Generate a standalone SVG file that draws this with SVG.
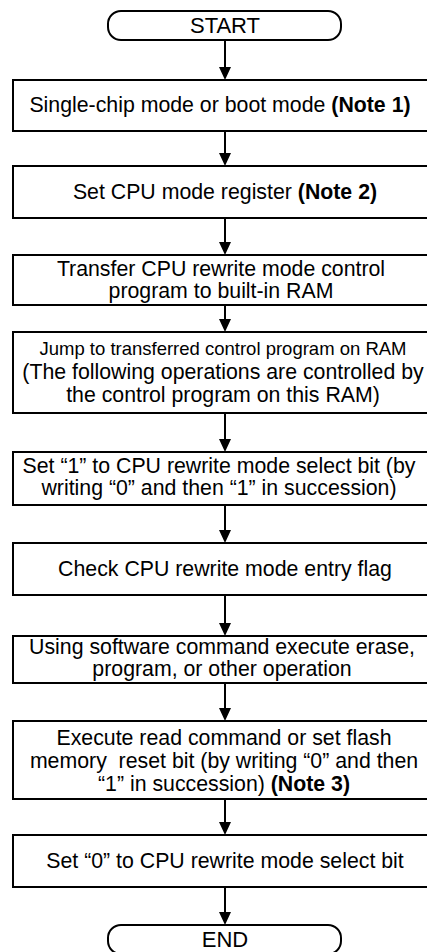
<svg xmlns="http://www.w3.org/2000/svg" width="427" height="952" viewBox="0 0 427 952">
<defs>
<style>
.box{fill:#fff;stroke:#000;stroke-width:2}
.t{font-family:"Liberation Sans",Arial,sans-serif;font-size:21.3px;fill:#000;text-anchor:middle}
.s{font-size:18.5px}
.b{font-weight:bold}
.ln{stroke:#000;stroke-width:2;fill:none}
.hd{fill:#000}
</style>
</defs>
<rect width="427" height="952" fill="#fff"/>
<g id="connectors">
<path class="ln" d="M225 40V68M225 131V154M225 218V243M225 305V320M225 413V440M225 505V531M225 595V624M225 683V709M225 799V823M225 887V913"/>
<path class="hd" d="M219 67h12l-6 13zM219 153h12l-6 13zM219 242h12l-6 13zM219 319h12l-6 13zM219 439h12l-6 13zM219 530h12l-6 13zM219 623h12l-6 13zM219 708h12l-6 13zM219 822h12l-6 13zM219 912h12l-6 13z"/>
</g>
<g id="start">
<rect class="box" x="108" y="11" width="233" height="29" rx="13" ry="13"/>
<text class="t" x="225" y="33" style="font-size:22px">START</text>
</g>
<g id="n1">
<rect class="box" x="13" y="80" width="420" height="51"/>
<text class="t" x="220" y="112">Single-chip mode or boot mode <tspan class="b">(Note 1)</tspan></text>
</g>
<g id="n2">
<rect class="box" x="13" y="166" width="420" height="52"/>
<text class="t" x="225" y="199">Set CPU mode register <tspan class="b">(Note 2)</tspan></text>
</g>
<g id="n3">
<rect class="box" x="13" y="255" width="420" height="50"/>
<text class="t" x="221" y="276">Transfer CPU rewrite mode control</text>
<text class="t" x="221" y="298">program to built-in RAM</text>
</g>
<g id="n4">
<rect class="box" x="13" y="332" width="420" height="81"/>
<text class="t s" x="223" y="355">Jump to transferred control program on RAM</text>
<text class="t" x="223" y="379">(The following operations are controlled by</text>
<text class="t" x="223" y="402">the control program on this RAM)</text>
</g>
<g id="n5">
<rect class="box" x="13" y="452" width="420" height="53"/>
<text class="t" x="219" y="473">Set “1” to CPU rewrite mode select bit (by</text>
<text class="t" x="219" y="495">writing “0” and then “1” in succession)</text>
</g>
<g id="n6">
<rect class="box" x="13" y="543" width="420" height="52"/>
<text class="t" x="225" y="576">Check CPU rewrite mode entry flag</text>
</g>
<g id="n7">
<rect class="box" x="13" y="636" width="420" height="47"/>
<text class="t" x="222" y="654">Using software command execute erase,</text>
<text class="t" x="222" y="676">program, or other operation</text>
</g>
<g id="n8">
<rect class="box" x="13" y="721" width="420" height="78"/>
<text class="t" x="224" y="745">Execute read command or set flash</text>
<text class="t" x="224" y="768">memory&#160; reset bit (by writing “0” and then</text>
<text class="t" x="224" y="791">“1” in succession) <tspan class="b">(Note 3)</tspan></text>
</g>
<g id="n9">
<rect class="box" x="13" y="835" width="420" height="52"/>
<text class="t" x="225" y="868">Set “0” to CPU rewrite mode select bit</text>
</g>
<g id="end">
<rect class="box" x="108" y="925" width="233" height="29" rx="13" ry="13"/>
<text class="t" x="225" y="947" style="font-size:22px">END</text>
</g>
</svg>
